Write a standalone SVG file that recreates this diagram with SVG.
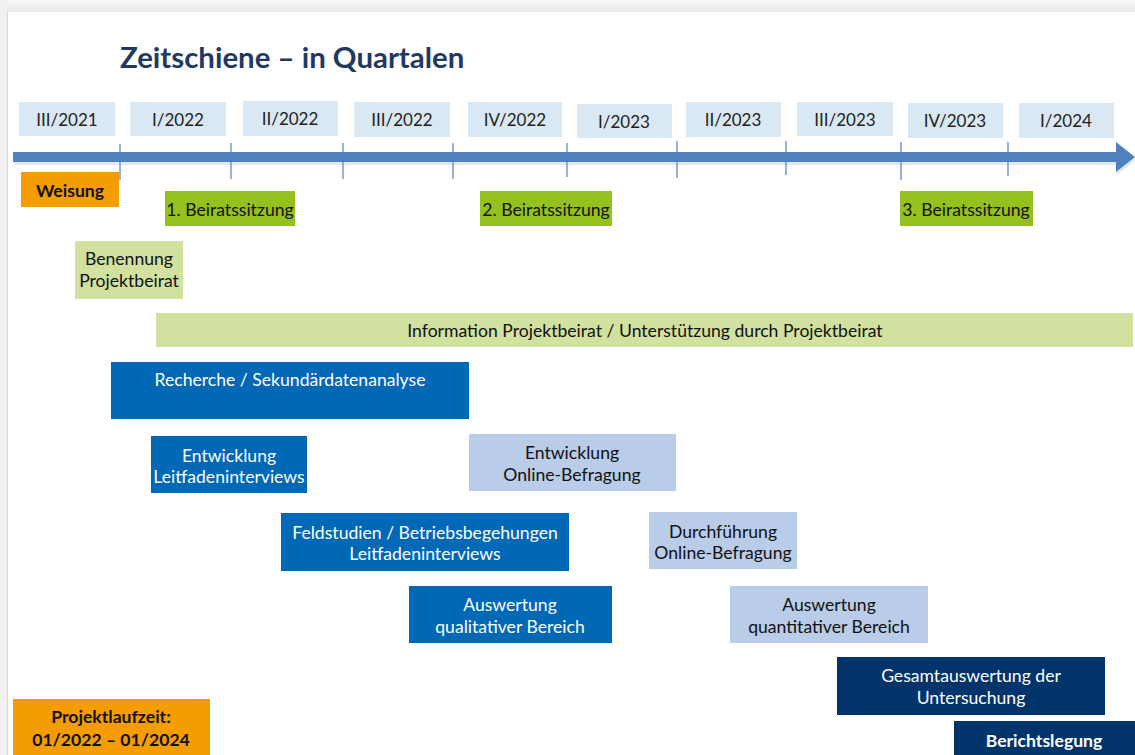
<svg xmlns="http://www.w3.org/2000/svg" width="1135" height="755" viewBox="0 0 1135 755">
<style>
.q{fill:#dae8f4}
.qt{font-family:Lato,"Open Sans",sans-serif;font-size:17px;fill:#222;text-anchor:middle}
.t{font-family:Lato,"Open Sans",sans-serif;font-size:17.6px;text-anchor:middle}
.dk{fill:#111}
.wh{fill:#fff}
.b{font-weight:bold}
.tick{stroke:#4f81bd;stroke-width:1.2}
.or{fill:#f59d00}
.gr{fill:#95c11f}
.lg{fill:#d1e19f}
.db{fill:#0068b4}
.lb{fill:#b9cce8}
.nv{fill:#00346b}
</style>
<defs>
<linearGradient id="topg" x1="0" y1="0" x2="0" y2="1"><stop offset="0" stop-color="#f7f7f7"/><stop offset="1" stop-color="#e9e9e9"/></linearGradient>
</defs>
<rect x="0" y="0" width="1135" height="755" fill="#fff"/>
<rect x="0" y="0" width="1135" height="12" fill="url(#topg)"/>
<rect x="0" y="0" width="7" height="755" fill="#f1f1f1"/>
<line x1="7.5" y1="12" x2="7.5" y2="755" stroke="#d9d9d9" stroke-width="1"/>

<text x="120" y="68" font-family="Lato,'Open Sans',sans-serif" font-size="29.4" font-weight="bold" fill="#1f3864">Zeitschiene – in Quartalen</text>

<g id="quarters">
<g id="q1"><rect class="q" x="19" y="102" width="96" height="34"/><text class="qt" x="67" y="126">III/2021</text></g>
<g id="q2"><rect class="q" x="130" y="102" width="96" height="34"/><text class="qt" x="178" y="126">I/2022</text></g>
<g id="q3"><rect class="q" x="243" y="101" width="95" height="35"/><text class="qt" x="290" y="125">II/2022</text></g>
<g id="q4"><rect class="q" x="354" y="102" width="96" height="35"/><text class="qt" x="402" y="126">III/2022</text></g>
<g id="q5"><rect class="q" x="468" y="102" width="94" height="35"/><text class="qt" x="515" y="126">IV/2022</text></g>
<g id="q6"><rect class="q" x="577" y="104" width="95" height="34"/><text class="qt" x="624" y="128">I/2023</text></g>
<g id="q7"><rect class="q" x="686" y="102" width="95" height="35"/><text class="qt" x="733" y="126">II/2023</text></g>
<g id="q8"><rect class="q" x="797" y="102" width="96" height="34"/><text class="qt" x="845" y="126">III/2023</text></g>
<g id="q9"><rect class="q" x="908" y="103" width="95" height="35"/><text class="qt" x="955" y="127">IV/2023</text></g>
<g id="q10"><rect class="q" x="1019" y="103" width="95" height="35"/><text class="qt" x="1066" y="127">I/2024</text></g>
</g>

<g id="connectors">
<path d="M13,153 H1116 V143 L1135,158 L1116,173 V163 H13 Z" fill="#d0d8e4" transform="translate(1,2)" opacity="0.6"/>
<path d="M13,152 H1116 V142 L1135,157 L1116,172 V162 H13 Z" fill="#4f81bd"/>
<line class="tick" x1="120" y1="144" x2="120" y2="180"/>
<line class="tick" x1="231" y1="143" x2="231" y2="179"/>
<line class="tick" x1="343" y1="143" x2="343" y2="179"/>
<line class="tick" x1="453" y1="143" x2="453" y2="179"/>
<line class="tick" x1="567" y1="143" x2="567" y2="177"/>
<line class="tick" x1="677" y1="141" x2="677" y2="178"/>
<line class="tick" x1="786" y1="141" x2="786" y2="175"/>
<line class="tick" x1="901" y1="142" x2="901" y2="180"/>
<line class="tick" x1="1008" y1="142" x2="1008" y2="176"/>
</g>

<g id="weisung"><rect class="or" x="21" y="172" width="98" height="35"/><text class="t dk b" x="70" y="197">Weisung</text></g>
<g id="beirat1"><rect class="gr" x="165" y="191" width="130" height="35"/><text class="t dk" x="230" y="216">1. Beiratssitzung</text></g>
<g id="beirat2"><rect class="gr" x="480" y="191" width="132" height="35"/><text class="t dk" x="546" y="216">2. Beiratssitzung</text></g>
<g id="beirat3"><rect class="gr" x="900" y="191" width="133" height="35"/><text class="t dk" x="966" y="216">3. Beiratssitzung</text></g>

<g id="benennung"><rect class="lg" x="75" y="241" width="108" height="58"/><text class="t dk" x="129" y="265">Benennung</text><text class="t dk" x="129" y="287">Projektbeirat</text></g>
<g id="information"><rect class="lg" x="156" y="313" width="977" height="34"/><text class="t dk" x="645" y="337">Information Projektbeirat / Unterstützung durch Projektbeirat</text></g>

<g id="recherche"><rect class="db" x="111" y="362" width="358" height="57"/><text class="t wh" x="290" y="386">Recherche / Sekundärdatenanalyse</text></g>
<g id="entw-leitfaden"><rect class="db" x="151" y="436" width="156" height="57"/><text class="t wh" x="229" y="462">Entwicklung</text><text class="t wh" x="229" y="483">Leitfadeninterviews</text></g>
<g id="entw-online"><rect class="lb" x="469" y="434" width="207" height="57"/><text class="t dk" x="572" y="459">Entwicklung</text><text class="t dk" x="572" y="481">Online-Befragung</text></g>
<g id="feldstudien"><rect class="db" x="281" y="513" width="288" height="58"/><text class="t wh" x="425" y="539">Feldstudien / Betriebsbegehungen</text><text class="t wh" x="425" y="560">Leitfadeninterviews</text></g>
<g id="durchfuehrung"><rect class="lb" x="649" y="512" width="148" height="57"/><text class="t dk" x="723" y="538">Durchführung</text><text class="t dk" x="723" y="559">Online-Befragung</text></g>
<g id="ausw-qual"><rect class="db" x="409" y="586" width="203" height="57"/><text class="t wh" x="510" y="611">Auswertung</text><text class="t wh" x="510" y="633">qualitativer Bereich</text></g>
<g id="ausw-quant"><rect class="lb" x="730" y="586" width="198" height="57"/><text class="t dk" x="829" y="611">Auswertung</text><text class="t dk" x="829" y="633">quantitativer Bereich</text></g>
<g id="gesamt"><rect class="nv" x="837" y="657" width="268" height="58"/><text class="t wh" x="971" y="682">Gesamtauswertung der</text><text class="t wh" x="971" y="704">Untersuchung</text></g>
<g id="bericht"><rect class="nv" x="954" y="721" width="181" height="40"/><text class="t wh b" x="1044" y="747">Berichtslegung</text></g>
<g id="laufzeit"><rect class="or" x="13" y="699" width="197" height="60"/><text class="t dk b" x="111" y="723">Projektlaufzeit:</text><text class="t dk b" x="111" y="746">01/2022 – 01/2024</text></g>
</svg>
